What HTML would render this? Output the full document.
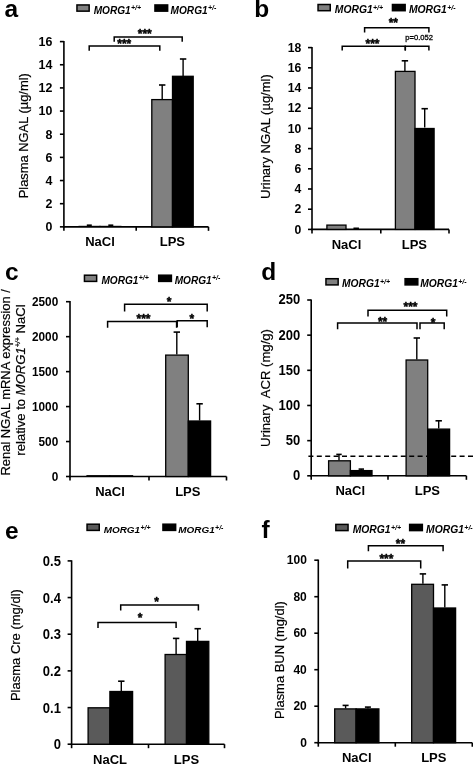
<!DOCTYPE html>
<html><head><meta charset="utf-8"><style>
html,body{margin:0;padding:0;background:#fff;}
svg{display:block;filter:grayscale(1);}
svg text{font-family:"Liberation Sans",sans-serif;fill:#000;}
</style></head><body>
<svg width="473" height="764" viewBox="0 0 473 764">
<rect width="473" height="764" fill="#fff"/>
<text x="4.50" y="16.70" font-size="24.5" font-weight="bold" font-style="normal" text-anchor="start" >a</text>
<rect x="76.95" y="4.95" width="12.20" height="6.20" fill="#808080" stroke="#000" stroke-width="1.5"/>
<rect x="154.95" y="4.95" width="12.70" height="6.20" fill="#000" stroke="#000" stroke-width="1.5"/>
<text x="93.70" y="13.60" font-size="10.1" font-weight="bold" font-style="italic">MORG1<tspan font-size="7.0" dx="0.3" dy="-3.2">+/+</tspan></text>
<text x="170.60" y="13.60" font-size="10.1" font-weight="bold" font-style="italic">MORG1<tspan font-size="7.0" dx="0.3" dy="-3.2">+/-</tspan></text>
<line x1="63.90" y1="41.00" x2="63.90" y2="227.65" stroke="#000" stroke-width="1.6" />
<line x1="63.10" y1="226.85" x2="208.50" y2="226.85" stroke="#000" stroke-width="1.6" />
<line x1="63.90" y1="226.85" x2="63.90" y2="230.85" stroke="#000" stroke-width="1.6" />
<line x1="136.20" y1="226.85" x2="136.20" y2="230.85" stroke="#000" stroke-width="1.6" />
<line x1="208.50" y1="226.85" x2="208.50" y2="230.85" stroke="#000" stroke-width="1.6" />
<line x1="59.90" y1="226.85" x2="63.90" y2="226.85" stroke="#000" stroke-width="1.6" />
<text transform="translate(52.30,231.24) scale(1,1.07)" font-size="12.4" font-weight="bold" text-anchor="end" stroke="#000" stroke-width="0">0</text>
<line x1="59.90" y1="203.69" x2="63.90" y2="203.69" stroke="#000" stroke-width="1.6" />
<text transform="translate(52.30,208.08) scale(1,1.07)" font-size="12.4" font-weight="bold" text-anchor="end" stroke="#000" stroke-width="0">2</text>
<line x1="59.90" y1="180.54" x2="63.90" y2="180.54" stroke="#000" stroke-width="1.6" />
<text transform="translate(52.30,184.92) scale(1,1.07)" font-size="12.4" font-weight="bold" text-anchor="end" stroke="#000" stroke-width="0">4</text>
<line x1="59.90" y1="157.38" x2="63.90" y2="157.38" stroke="#000" stroke-width="1.6" />
<text transform="translate(52.30,161.77) scale(1,1.07)" font-size="12.4" font-weight="bold" text-anchor="end" stroke="#000" stroke-width="0">6</text>
<line x1="59.90" y1="134.22" x2="63.90" y2="134.22" stroke="#000" stroke-width="1.6" />
<text transform="translate(52.30,138.61) scale(1,1.07)" font-size="12.4" font-weight="bold" text-anchor="end" stroke="#000" stroke-width="0">8</text>
<line x1="59.90" y1="111.07" x2="63.90" y2="111.07" stroke="#000" stroke-width="1.6" />
<text transform="translate(52.30,115.46) scale(1,1.07)" font-size="12.4" font-weight="bold" text-anchor="end" stroke="#000" stroke-width="0">10</text>
<line x1="59.90" y1="87.91" x2="63.90" y2="87.91" stroke="#000" stroke-width="1.6" />
<text transform="translate(52.30,92.30) scale(1,1.07)" font-size="12.4" font-weight="bold" text-anchor="end" stroke="#000" stroke-width="0">12</text>
<line x1="59.90" y1="64.76" x2="63.90" y2="64.76" stroke="#000" stroke-width="1.6" />
<text transform="translate(52.30,69.14) scale(1,1.07)" font-size="12.4" font-weight="bold" text-anchor="end" stroke="#000" stroke-width="0">14</text>
<line x1="59.90" y1="41.60" x2="63.90" y2="41.60" stroke="#000" stroke-width="1.6" />
<text transform="translate(52.30,45.99) scale(1,1.07)" font-size="12.4" font-weight="bold" text-anchor="end" stroke="#000" stroke-width="0">16</text>
<text x="100.00" y="246.10" font-size="13.0" font-weight="bold" font-style="normal" text-anchor="middle" stroke="#000" stroke-width="0">NaCl</text>
<text x="172.40" y="246.10" font-size="13.0" font-weight="bold" font-style="normal" text-anchor="middle" stroke="#000" stroke-width="0">LPS</text>
<rect x="78.50" y="225.80" width="22.10" height="1.05" fill="#000"/>
<rect x="99.40" y="225.80" width="22.10" height="1.05" fill="#000"/>
<rect x="151.80" y="99.60" width="20.70" height="127.25" fill="#808080" stroke="#000" stroke-width="1.3"/>
<rect x="172.50" y="76.30" width="20.70" height="150.55" fill="#000" stroke="#000" stroke-width="1.3"/>
<line x1="89.30" y1="225.20" x2="89.30" y2="226.20" stroke="#000" stroke-width="1.4" />
<line x1="86.80" y1="225.20" x2="91.80" y2="225.20" stroke="#000" stroke-width="1.6" />
<line x1="110.80" y1="225.20" x2="110.80" y2="226.20" stroke="#000" stroke-width="1.4" />
<line x1="108.30" y1="225.20" x2="113.30" y2="225.20" stroke="#000" stroke-width="1.6" />
<line x1="162.20" y1="85.00" x2="162.20" y2="99.60" stroke="#000" stroke-width="1.4" />
<line x1="159.00" y1="85.00" x2="165.40" y2="85.00" stroke="#000" stroke-width="1.6" />
<line x1="183.10" y1="59.00" x2="183.10" y2="76.30" stroke="#000" stroke-width="1.4" />
<line x1="179.90" y1="59.00" x2="186.30" y2="59.00" stroke="#000" stroke-width="1.6" />
<path d="M89.20,50.70 V46.10 H159.80 V50.70" fill="none" stroke="#000" stroke-width="1.5"/>
<path d="M114.20,41.70 V37.10 H182.20 V41.70" fill="none" stroke="#000" stroke-width="1.5"/>
<text x="124.30" y="48.40" font-size="12" font-weight="bold" font-style="normal" text-anchor="middle" stroke="#000" stroke-width="0.45" stroke-linejoin="round">***</text>
<text x="144.80" y="38.40" font-size="12" font-weight="bold" font-style="normal" text-anchor="middle" stroke="#000" stroke-width="0.45" stroke-linejoin="round">***</text>
<text transform="translate(28.30,135.75) rotate(-90)" font-size="12.9" text-anchor="middle" stroke="#000" stroke-width="0.2">Plasma NGAL (µg/ml)</text>
<text x="254.30" y="16.80" font-size="24.5" font-weight="bold" font-style="normal" text-anchor="start" >b</text>
<rect x="318.05" y="4.50" width="12.20" height="6.20" fill="#808080" stroke="#000" stroke-width="1.5"/>
<rect x="392.45" y="4.50" width="12.70" height="6.20" fill="#000" stroke="#000" stroke-width="1.5"/>
<text x="334.80" y="13.00" font-size="10.35" font-weight="bold" font-style="italic">MORG1<tspan font-size="7.0" dx="0.3" dy="-3.2">+/+</tspan></text>
<text x="408.90" y="13.00" font-size="10.35" font-weight="bold" font-style="italic">MORG1<tspan font-size="7.0" dx="0.3" dy="-3.2">+/-</tspan></text>
<line x1="312.00" y1="47.00" x2="312.00" y2="230.20" stroke="#000" stroke-width="1.6" />
<line x1="311.20" y1="229.40" x2="449.00" y2="229.40" stroke="#000" stroke-width="1.6" />
<line x1="312.00" y1="229.40" x2="312.00" y2="233.40" stroke="#000" stroke-width="1.6" />
<line x1="380.80" y1="229.40" x2="380.80" y2="233.40" stroke="#000" stroke-width="1.6" />
<line x1="449.00" y1="229.40" x2="449.00" y2="233.40" stroke="#000" stroke-width="1.6" />
<line x1="308.00" y1="229.40" x2="312.00" y2="229.40" stroke="#000" stroke-width="1.6" />
<text transform="translate(301.30,233.68) scale(1,1.07)" font-size="12.2" font-weight="bold" text-anchor="end" stroke="#000" stroke-width="0">0</text>
<line x1="308.00" y1="209.20" x2="312.00" y2="209.20" stroke="#000" stroke-width="1.6" />
<text transform="translate(301.30,213.48) scale(1,1.07)" font-size="12.2" font-weight="bold" text-anchor="end" stroke="#000" stroke-width="0">2</text>
<line x1="308.00" y1="189.00" x2="312.00" y2="189.00" stroke="#000" stroke-width="1.6" />
<text transform="translate(301.30,193.28) scale(1,1.07)" font-size="12.2" font-weight="bold" text-anchor="end" stroke="#000" stroke-width="0">4</text>
<line x1="308.00" y1="168.80" x2="312.00" y2="168.80" stroke="#000" stroke-width="1.6" />
<text transform="translate(301.30,173.08) scale(1,1.07)" font-size="12.2" font-weight="bold" text-anchor="end" stroke="#000" stroke-width="0">6</text>
<line x1="308.00" y1="148.60" x2="312.00" y2="148.60" stroke="#000" stroke-width="1.6" />
<text transform="translate(301.30,152.88) scale(1,1.07)" font-size="12.2" font-weight="bold" text-anchor="end" stroke="#000" stroke-width="0">8</text>
<line x1="308.00" y1="128.40" x2="312.00" y2="128.40" stroke="#000" stroke-width="1.6" />
<text transform="translate(301.30,132.68) scale(1,1.07)" font-size="12.2" font-weight="bold" text-anchor="end" stroke="#000" stroke-width="0">10</text>
<line x1="308.00" y1="108.20" x2="312.00" y2="108.20" stroke="#000" stroke-width="1.6" />
<text transform="translate(301.30,112.48) scale(1,1.07)" font-size="12.2" font-weight="bold" text-anchor="end" stroke="#000" stroke-width="0">12</text>
<line x1="308.00" y1="88.00" x2="312.00" y2="88.00" stroke="#000" stroke-width="1.6" />
<text transform="translate(301.30,92.28) scale(1,1.07)" font-size="12.2" font-weight="bold" text-anchor="end" stroke="#000" stroke-width="0">14</text>
<line x1="308.00" y1="67.80" x2="312.00" y2="67.80" stroke="#000" stroke-width="1.6" />
<text transform="translate(301.30,72.08) scale(1,1.07)" font-size="12.2" font-weight="bold" text-anchor="end" stroke="#000" stroke-width="0">16</text>
<line x1="308.00" y1="47.60" x2="312.00" y2="47.60" stroke="#000" stroke-width="1.6" />
<text transform="translate(301.30,51.88) scale(1,1.07)" font-size="12.2" font-weight="bold" text-anchor="end" stroke="#000" stroke-width="0">18</text>
<text x="346.50" y="248.50" font-size="13.0" font-weight="bold" font-style="normal" text-anchor="middle" stroke="#000" stroke-width="0">NaCl</text>
<text x="414.40" y="248.50" font-size="13.0" font-weight="bold" font-style="normal" text-anchor="middle" stroke="#000" stroke-width="0">LPS</text>
<rect x="326.90" y="225.10" width="19.10" height="4.30" fill="#808080" stroke="#000" stroke-width="1.3"/>
<rect x="395.40" y="71.40" width="19.60" height="158.00" fill="#808080" stroke="#000" stroke-width="1.3"/>
<rect x="415.00" y="128.50" width="19.10" height="100.90" fill="#000" stroke="#000" stroke-width="1.3"/>
<line x1="356.20" y1="228.30" x2="356.20" y2="229.40" stroke="#000" stroke-width="1.4" />
<line x1="353.45" y1="228.30" x2="358.95" y2="228.30" stroke="#000" stroke-width="1.6" />
<line x1="404.90" y1="60.80" x2="404.90" y2="70.90" stroke="#000" stroke-width="1.4" />
<line x1="401.70" y1="60.80" x2="408.10" y2="60.80" stroke="#000" stroke-width="1.6" />
<line x1="424.70" y1="108.70" x2="424.70" y2="127.40" stroke="#000" stroke-width="1.4" />
<line x1="421.50" y1="108.70" x2="427.90" y2="108.70" stroke="#000" stroke-width="1.6" />
<path d="M364.60,32.50 V27.80 H428.90 V32.50" fill="none" stroke="#000" stroke-width="1.5"/>
<path d="M342.20,50.40 V46.20 H405.30 V50.40" fill="none" stroke="#000" stroke-width="1.5"/>
<path d="M405.30,50.40 V46.20 H428.90 V50.40" fill="none" stroke="#000" stroke-width="1.5"/>
<text x="393.30" y="27.00" font-size="12" font-weight="bold" font-style="normal" text-anchor="middle" stroke="#000" stroke-width="0.45" stroke-linejoin="round">**</text>
<text x="372.50" y="47.50" font-size="12" font-weight="bold" font-style="normal" text-anchor="middle" stroke="#000" stroke-width="0.45" stroke-linejoin="round">***</text>
<text x="419.20" y="40.20" font-size="7.6" font-weight="normal" font-style="normal" text-anchor="middle" stroke="#000" stroke-width="0.3">p=0.052</text>
<text transform="translate(269.80,136.60) rotate(-90)" font-size="13.0" text-anchor="middle" stroke="#000" stroke-width="0.2">Urinary NGAL (µg/ml)</text>
<text x="4.90" y="279.90" font-size="24.5" font-weight="bold" font-style="normal" text-anchor="start" >c</text>
<rect x="84.45" y="275.20" width="12.20" height="6.20" fill="#808080" stroke="#000" stroke-width="1.5"/>
<rect x="158.70" y="275.20" width="12.70" height="6.20" fill="#000" stroke="#000" stroke-width="1.5"/>
<text x="101.40" y="283.50" font-size="10.1" font-weight="bold" font-style="italic">MORG1<tspan font-size="7.0" dx="0.3" dy="-3.2">+/+</tspan></text>
<text x="174.70" y="283.50" font-size="10.1" font-weight="bold" font-style="italic">MORG1<tspan font-size="7.0" dx="0.3" dy="-3.2">+/-</tspan></text>
<line x1="70.00" y1="301.10" x2="70.00" y2="477.30" stroke="#000" stroke-width="1.6" />
<line x1="69.20" y1="476.50" x2="226.50" y2="476.50" stroke="#000" stroke-width="1.6" />
<line x1="70.00" y1="476.50" x2="70.00" y2="480.50" stroke="#000" stroke-width="1.6" />
<line x1="149.00" y1="476.50" x2="149.00" y2="480.50" stroke="#000" stroke-width="1.6" />
<line x1="226.50" y1="476.50" x2="226.50" y2="480.50" stroke="#000" stroke-width="1.6" />
<line x1="66.00" y1="476.50" x2="70.00" y2="476.50" stroke="#000" stroke-width="1.6" />
<text transform="translate(58.20,480.67) scale(1,1.07)" font-size="11.8" font-weight="bold" text-anchor="end" stroke="#000" stroke-width="0">0</text>
<line x1="66.00" y1="441.54" x2="70.00" y2="441.54" stroke="#000" stroke-width="1.6" />
<text transform="translate(58.20,445.71) scale(1,1.07)" font-size="11.8" font-weight="bold" text-anchor="end" stroke="#000" stroke-width="0">500</text>
<line x1="66.00" y1="406.58" x2="70.00" y2="406.58" stroke="#000" stroke-width="1.6" />
<text transform="translate(58.20,410.75) scale(1,1.07)" font-size="11.8" font-weight="bold" text-anchor="end" stroke="#000" stroke-width="0">1000</text>
<line x1="66.00" y1="371.62" x2="70.00" y2="371.62" stroke="#000" stroke-width="1.6" />
<text transform="translate(58.20,375.79) scale(1,1.07)" font-size="11.8" font-weight="bold" text-anchor="end" stroke="#000" stroke-width="0">1500</text>
<line x1="66.00" y1="336.66" x2="70.00" y2="336.66" stroke="#000" stroke-width="1.6" />
<text transform="translate(58.20,340.83) scale(1,1.07)" font-size="11.8" font-weight="bold" text-anchor="end" stroke="#000" stroke-width="0">2000</text>
<line x1="66.00" y1="301.70" x2="70.00" y2="301.70" stroke="#000" stroke-width="1.6" />
<text transform="translate(58.20,305.87) scale(1,1.07)" font-size="11.8" font-weight="bold" text-anchor="end" stroke="#000" stroke-width="0">2500</text>
<text x="110.00" y="495.90" font-size="13.0" font-weight="bold" font-style="normal" text-anchor="middle" stroke="#000" stroke-width="0">NaCl</text>
<text x="187.80" y="495.90" font-size="13.0" font-weight="bold" font-style="normal" text-anchor="middle" stroke="#000" stroke-width="0">LPS</text>
<rect x="86.40" y="475.10" width="24.00" height="1.40" fill="#000"/>
<rect x="109.20" y="475.10" width="24.00" height="1.40" fill="#000"/>
<rect x="165.70" y="355.10" width="22.60" height="121.40" fill="#808080" stroke="#000" stroke-width="1.3"/>
<rect x="188.30" y="421.00" width="22.30" height="55.50" fill="#000" stroke="#000" stroke-width="1.3"/>
<line x1="176.80" y1="332.10" x2="176.80" y2="354.60" stroke="#000" stroke-width="1.4" />
<line x1="173.60" y1="332.10" x2="180.00" y2="332.10" stroke="#000" stroke-width="1.6" />
<line x1="199.60" y1="403.80" x2="199.60" y2="420.50" stroke="#000" stroke-width="1.4" />
<line x1="196.40" y1="403.80" x2="202.80" y2="403.80" stroke="#000" stroke-width="1.6" />
<path d="M124.60,311.50 V304.30 H207.20 V311.50" fill="none" stroke="#000" stroke-width="1.5"/>
<path d="M107.60,327.70 V321.50 H176.60 V327.70" fill="none" stroke="#000" stroke-width="1.5"/>
<path d="M177.20,327.30 V320.70 H207.20 V327.30" fill="none" stroke="#000" stroke-width="1.5"/>
<text x="169.20" y="305.70" font-size="12" font-weight="bold" font-style="normal" text-anchor="middle" stroke="#000" stroke-width="0.45" stroke-linejoin="round">*</text>
<text x="143.50" y="323.20" font-size="12" font-weight="bold" font-style="normal" text-anchor="middle" stroke="#000" stroke-width="0.45" stroke-linejoin="round">***</text>
<text x="191.80" y="322.60" font-size="12" font-weight="bold" font-style="normal" text-anchor="middle" stroke="#000" stroke-width="0.45" stroke-linejoin="round">*</text>
<text transform="translate(9.70,382.30) rotate(-90)" font-size="12.95" text-anchor="middle" stroke="#000" stroke-width="0.2">Renal NGAL mRNA expression /</text>
<text transform="translate(24.90,380.00) rotate(-90)" font-size="13.1" text-anchor="middle" stroke="#000" stroke-width="0.2">relative to <tspan font-style="italic">MORG1</tspan><tspan font-size="7" dy="-4.5" font-style="italic">+/+</tspan><tspan dy="4.5"> NaCl</tspan></text>
<text x="261.20" y="279.50" font-size="24.5" font-weight="bold" font-style="normal" text-anchor="start" >d</text>
<rect x="325.95" y="278.70" width="12.20" height="6.20" fill="#808080" stroke="#000" stroke-width="1.5"/>
<rect x="405.10" y="278.70" width="12.70" height="6.20" fill="#000" stroke="#000" stroke-width="1.5"/>
<text x="342.00" y="287.20" font-size="10.27" font-weight="bold" font-style="italic">MORG1<tspan font-size="7.0" dx="0.3" dy="-3.2">+/+</tspan></text>
<text x="420.30" y="287.20" font-size="10.27" font-weight="bold" font-style="italic">MORG1<tspan font-size="7.0" dx="0.3" dy="-3.2">+/-</tspan></text>
<line x1="311.20" y1="299.40" x2="311.20" y2="476.60" stroke="#000" stroke-width="1.6" />
<line x1="310.40" y1="475.80" x2="466.40" y2="475.80" stroke="#000" stroke-width="1.6" />
<line x1="311.20" y1="475.80" x2="311.20" y2="479.80" stroke="#000" stroke-width="1.6" />
<line x1="388.00" y1="475.80" x2="388.00" y2="479.80" stroke="#000" stroke-width="1.6" />
<line x1="466.40" y1="475.80" x2="466.40" y2="479.80" stroke="#000" stroke-width="1.6" />
<line x1="307.20" y1="475.80" x2="311.20" y2="475.80" stroke="#000" stroke-width="1.6" />
<text transform="translate(300.20,480.29) scale(1,1.07)" font-size="13" font-weight="bold" text-anchor="end" stroke="#000" stroke-width="0">0</text>
<line x1="307.20" y1="440.64" x2="311.20" y2="440.64" stroke="#000" stroke-width="1.6" />
<text transform="translate(300.20,445.13) scale(1,1.07)" font-size="13" font-weight="bold" text-anchor="end" stroke="#000" stroke-width="0">50</text>
<line x1="307.20" y1="405.48" x2="311.20" y2="405.48" stroke="#000" stroke-width="1.6" />
<text transform="translate(300.20,409.97) scale(1,1.07)" font-size="13" font-weight="bold" text-anchor="end" stroke="#000" stroke-width="0">100</text>
<line x1="307.20" y1="370.32" x2="311.20" y2="370.32" stroke="#000" stroke-width="1.6" />
<text transform="translate(300.20,374.81) scale(1,1.07)" font-size="13" font-weight="bold" text-anchor="end" stroke="#000" stroke-width="0">150</text>
<line x1="307.20" y1="335.16" x2="311.20" y2="335.16" stroke="#000" stroke-width="1.6" />
<text transform="translate(300.20,339.65) scale(1,1.07)" font-size="13" font-weight="bold" text-anchor="end" stroke="#000" stroke-width="0">200</text>
<line x1="307.20" y1="300.00" x2="311.20" y2="300.00" stroke="#000" stroke-width="1.6" />
<text transform="translate(300.20,304.49) scale(1,1.07)" font-size="13" font-weight="bold" text-anchor="end" stroke="#000" stroke-width="0">250</text>
<text x="350.20" y="494.90" font-size="13.0" font-weight="bold" font-style="normal" text-anchor="middle" stroke="#000" stroke-width="0">NaCl</text>
<text x="427.40" y="494.90" font-size="13.0" font-weight="bold" font-style="normal" text-anchor="middle" stroke="#000" stroke-width="0">LPS</text>
<rect x="328.60" y="460.80" width="21.80" height="15.00" fill="#808080" stroke="#000" stroke-width="1.3"/>
<rect x="350.40" y="470.60" width="21.60" height="5.20" fill="#000" stroke="#000" stroke-width="1.3"/>
<rect x="406.10" y="360.00" width="21.60" height="115.80" fill="#808080" stroke="#000" stroke-width="1.3"/>
<rect x="427.70" y="429.10" width="21.90" height="46.70" fill="#000" stroke="#000" stroke-width="1.3"/>
<line x1="339.00" y1="454.40" x2="339.00" y2="460.30" stroke="#000" stroke-width="1.4" />
<line x1="336.30" y1="454.40" x2="341.70" y2="454.40" stroke="#000" stroke-width="1.6" />
<line x1="361.30" y1="469.10" x2="361.30" y2="470.10" stroke="#000" stroke-width="1.4" />
<line x1="358.60" y1="469.10" x2="364.00" y2="469.10" stroke="#000" stroke-width="1.6" />
<line x1="416.80" y1="338.00" x2="416.80" y2="359.50" stroke="#000" stroke-width="1.4" />
<line x1="413.60" y1="338.00" x2="420.00" y2="338.00" stroke="#000" stroke-width="1.6" />
<line x1="438.70" y1="420.80" x2="438.70" y2="428.60" stroke="#000" stroke-width="1.4" />
<line x1="435.50" y1="420.80" x2="441.90" y2="420.80" stroke="#000" stroke-width="1.6" />
<line x1="308.4" y1="456.3" x2="473" y2="456.3" stroke="#000" stroke-width="1.6" stroke-dasharray="5 3.4"/>
<path d="M368.00,316.60 V310.30 H446.70 V316.60" fill="none" stroke="#000" stroke-width="1.5"/>
<path d="M337.60,329.30 V323.00 H417.00 V329.30" fill="none" stroke="#000" stroke-width="1.5"/>
<path d="M420.00,329.30 V323.00 H444.20 V329.30" fill="none" stroke="#000" stroke-width="1.5"/>
<text x="410.50" y="311.10" font-size="12" font-weight="bold" font-style="normal" text-anchor="middle" stroke="#000" stroke-width="0.45" stroke-linejoin="round">***</text>
<text x="382.60" y="326.40" font-size="12" font-weight="bold" font-style="normal" text-anchor="middle" stroke="#000" stroke-width="0.45" stroke-linejoin="round">**</text>
<text x="433.20" y="326.60" font-size="12" font-weight="bold" font-style="normal" text-anchor="middle" stroke="#000" stroke-width="0.45" stroke-linejoin="round">*</text>
<text transform="translate(270.30,388.00) rotate(-90)" font-size="13.1" text-anchor="middle" stroke="#000" stroke-width="0.2">Urinary&#160; ACR (mg/g)</text>
<text x="4.90" y="538.80" font-size="24.5" font-weight="bold" font-style="normal" text-anchor="start" >e</text>
<rect x="87.05" y="524.20" width="12.20" height="6.20" fill="#5a5a5a" stroke="#000" stroke-width="1.5"/>
<rect x="162.95" y="524.20" width="12.70" height="6.20" fill="#000" stroke="#000" stroke-width="1.5"/>
<text x="103.70" y="532.70" font-size="9.95" font-weight="bold" font-style="italic">MORG1<tspan font-size="7.0" dx="0.3" dy="-3.2">+/+</tspan></text>
<text x="178.30" y="532.70" font-size="9.95" font-weight="bold" font-style="italic">MORG1<tspan font-size="7.0" dx="0.3" dy="-3.2">+/-</tspan></text>
<line x1="71.60" y1="560.30" x2="71.60" y2="745.00" stroke="#000" stroke-width="1.6" />
<line x1="70.80" y1="744.20" x2="224.50" y2="744.20" stroke="#000" stroke-width="1.6" />
<line x1="71.60" y1="744.20" x2="71.60" y2="748.20" stroke="#000" stroke-width="1.6" />
<line x1="148.50" y1="744.20" x2="148.50" y2="748.20" stroke="#000" stroke-width="1.6" />
<line x1="224.50" y1="744.20" x2="224.50" y2="748.20" stroke="#000" stroke-width="1.6" />
<line x1="67.60" y1="744.20" x2="71.60" y2="744.20" stroke="#000" stroke-width="1.6" />
<text transform="translate(60.90,749.34) scale(1,1.07)" font-size="13" font-weight="bold" text-anchor="end" stroke="#000" stroke-width="0">0</text>
<line x1="67.60" y1="707.54" x2="71.60" y2="707.54" stroke="#000" stroke-width="1.6" />
<text transform="translate(60.90,712.68) scale(1,1.07)" font-size="13" font-weight="bold" text-anchor="end" stroke="#000" stroke-width="0">0.1</text>
<line x1="67.60" y1="670.88" x2="71.60" y2="670.88" stroke="#000" stroke-width="1.6" />
<text transform="translate(60.90,676.02) scale(1,1.07)" font-size="13" font-weight="bold" text-anchor="end" stroke="#000" stroke-width="0">0.2</text>
<line x1="67.60" y1="634.22" x2="71.60" y2="634.22" stroke="#000" stroke-width="1.6" />
<text transform="translate(60.90,639.36) scale(1,1.07)" font-size="13" font-weight="bold" text-anchor="end" stroke="#000" stroke-width="0">0.3</text>
<line x1="67.60" y1="597.56" x2="71.60" y2="597.56" stroke="#000" stroke-width="1.6" />
<text transform="translate(60.90,602.70) scale(1,1.07)" font-size="13" font-weight="bold" text-anchor="end" stroke="#000" stroke-width="0">0.4</text>
<line x1="67.60" y1="560.90" x2="71.60" y2="560.90" stroke="#000" stroke-width="1.6" />
<text transform="translate(60.90,566.04) scale(1,1.07)" font-size="13" font-weight="bold" text-anchor="end" stroke="#000" stroke-width="0">0.5</text>
<text x="110.10" y="763.60" font-size="13.0" font-weight="bold" font-style="normal" text-anchor="middle" stroke="#000" stroke-width="0">NaCL</text>
<text x="186.50" y="763.60" font-size="13.0" font-weight="bold" font-style="normal" text-anchor="middle" stroke="#000" stroke-width="0">LPS</text>
<rect x="88.10" y="707.80" width="21.80" height="36.40" fill="#5a5a5a" stroke="#000" stroke-width="1.3"/>
<rect x="109.90" y="691.50" width="22.70" height="52.70" fill="#000" stroke="#000" stroke-width="1.3"/>
<rect x="165.10" y="654.50" width="21.40" height="89.70" fill="#5a5a5a" stroke="#000" stroke-width="1.3"/>
<rect x="186.50" y="641.40" width="22.30" height="102.80" fill="#000" stroke="#000" stroke-width="1.3"/>
<line x1="121.30" y1="681.20" x2="121.30" y2="691.00" stroke="#000" stroke-width="1.4" />
<line x1="118.10" y1="681.20" x2="124.50" y2="681.20" stroke="#000" stroke-width="1.6" />
<line x1="176.10" y1="638.40" x2="176.10" y2="654.00" stroke="#000" stroke-width="1.4" />
<line x1="172.90" y1="638.40" x2="179.30" y2="638.40" stroke="#000" stroke-width="1.6" />
<line x1="197.70" y1="628.70" x2="197.70" y2="642.10" stroke="#000" stroke-width="1.4" />
<line x1="194.50" y1="628.70" x2="200.90" y2="628.70" stroke="#000" stroke-width="1.6" />
<path d="M98.00,628.00 V622.50 H176.10 V628.00" fill="none" stroke="#000" stroke-width="1.5"/>
<path d="M120.70,610.40 V604.90 H198.40 V610.40" fill="none" stroke="#000" stroke-width="1.5"/>
<text x="140.00" y="622.00" font-size="12" font-weight="bold" font-style="normal" text-anchor="middle" stroke="#000" stroke-width="0.45" stroke-linejoin="round">*</text>
<text x="156.50" y="606.00" font-size="12" font-weight="bold" font-style="normal" text-anchor="middle" stroke="#000" stroke-width="0.45" stroke-linejoin="round">*</text>
<text transform="translate(19.80,645.10) rotate(-90)" font-size="13.0" text-anchor="middle" stroke="#000" stroke-width="0.2">Plasma Cre (mg/dl)</text>
<text x="261.60" y="537.80" font-size="24.5" font-weight="bold" font-style="normal" text-anchor="start" >f</text>
<rect x="335.85" y="524.40" width="12.20" height="6.20" fill="#5a5a5a" stroke="#000" stroke-width="1.5"/>
<rect x="409.65" y="524.40" width="12.70" height="6.20" fill="#000" stroke="#000" stroke-width="1.5"/>
<text x="352.70" y="532.90" font-size="10.35" font-weight="bold" font-style="italic">MORG1<tspan font-size="7.0" dx="0.3" dy="-3.2">+/+</tspan></text>
<text x="426.10" y="532.90" font-size="10.35" font-weight="bold" font-style="italic">MORG1<tspan font-size="7.0" dx="0.3" dy="-3.2">+/-</tspan></text>
<line x1="318.30" y1="559.60" x2="318.30" y2="743.50" stroke="#000" stroke-width="1.6" />
<line x1="317.50" y1="742.70" x2="472.30" y2="742.70" stroke="#000" stroke-width="1.6" />
<line x1="318.30" y1="742.70" x2="318.30" y2="746.70" stroke="#000" stroke-width="1.6" />
<line x1="395.30" y1="742.70" x2="395.30" y2="746.70" stroke="#000" stroke-width="1.6" />
<line x1="472.30" y1="742.70" x2="472.30" y2="746.70" stroke="#000" stroke-width="1.6" />
<line x1="314.30" y1="742.70" x2="318.30" y2="742.70" stroke="#000" stroke-width="1.6" />
<text transform="translate(306.80,746.98) scale(1,1.07)" font-size="12" font-weight="bold" text-anchor="end" stroke="#000" stroke-width="0">0</text>
<line x1="314.30" y1="706.20" x2="318.30" y2="706.20" stroke="#000" stroke-width="1.6" />
<text transform="translate(306.80,710.48) scale(1,1.07)" font-size="12" font-weight="bold" text-anchor="end" stroke="#000" stroke-width="0">20</text>
<line x1="314.30" y1="669.70" x2="318.30" y2="669.70" stroke="#000" stroke-width="1.6" />
<text transform="translate(306.80,673.98) scale(1,1.07)" font-size="12" font-weight="bold" text-anchor="end" stroke="#000" stroke-width="0">40</text>
<line x1="314.30" y1="633.20" x2="318.30" y2="633.20" stroke="#000" stroke-width="1.6" />
<text transform="translate(306.80,637.48) scale(1,1.07)" font-size="12" font-weight="bold" text-anchor="end" stroke="#000" stroke-width="0">60</text>
<line x1="314.30" y1="596.70" x2="318.30" y2="596.70" stroke="#000" stroke-width="1.6" />
<text transform="translate(306.80,600.98) scale(1,1.07)" font-size="12" font-weight="bold" text-anchor="end" stroke="#000" stroke-width="0">80</text>
<line x1="314.30" y1="560.20" x2="318.30" y2="560.20" stroke="#000" stroke-width="1.6" />
<text transform="translate(306.80,564.48) scale(1,1.07)" font-size="12" font-weight="bold" text-anchor="end" stroke="#000" stroke-width="0">100</text>
<text x="356.80" y="761.50" font-size="13.0" font-weight="bold" font-style="normal" text-anchor="middle" stroke="#000" stroke-width="0">NaCl</text>
<text x="433.80" y="761.50" font-size="13.0" font-weight="bold" font-style="normal" text-anchor="middle" stroke="#000" stroke-width="0">LPS</text>
<rect x="334.70" y="708.90" width="21.40" height="33.80" fill="#5a5a5a" stroke="#000" stroke-width="1.3"/>
<rect x="356.10" y="708.90" width="22.80" height="33.80" fill="#000" stroke="#000" stroke-width="1.3"/>
<rect x="411.70" y="584.30" width="21.80" height="158.40" fill="#5a5a5a" stroke="#000" stroke-width="1.3"/>
<rect x="433.50" y="608.00" width="22.10" height="134.70" fill="#000" stroke="#000" stroke-width="1.3"/>
<line x1="345.60" y1="705.40" x2="345.60" y2="708.40" stroke="#000" stroke-width="1.4" />
<line x1="342.60" y1="705.40" x2="348.60" y2="705.40" stroke="#000" stroke-width="1.6" />
<line x1="367.90" y1="707.10" x2="367.90" y2="708.40" stroke="#000" stroke-width="1.4" />
<line x1="364.90" y1="707.10" x2="370.90" y2="707.10" stroke="#000" stroke-width="1.6" />
<line x1="422.90" y1="573.90" x2="422.90" y2="583.80" stroke="#000" stroke-width="1.4" />
<line x1="419.70" y1="573.90" x2="426.10" y2="573.90" stroke="#000" stroke-width="1.6" />
<line x1="444.80" y1="584.90" x2="444.80" y2="607.50" stroke="#000" stroke-width="1.4" />
<line x1="441.60" y1="584.90" x2="448.00" y2="584.90" stroke="#000" stroke-width="1.6" />
<path d="M347.70,568.50 V561.00 H420.70 V568.50" fill="none" stroke="#000" stroke-width="1.5"/>
<path d="M368.40,551.30 V545.70 H443.10 V551.30" fill="none" stroke="#000" stroke-width="1.5"/>
<text x="386.40" y="562.70" font-size="12" font-weight="bold" font-style="normal" text-anchor="middle" stroke="#000" stroke-width="0.45" stroke-linejoin="round">***</text>
<text x="400.50" y="547.80" font-size="12" font-weight="bold" font-style="normal" text-anchor="middle" stroke="#000" stroke-width="0.45" stroke-linejoin="round">**</text>
<text transform="translate(284.30,660.10) rotate(-90)" font-size="12.95" text-anchor="middle" stroke="#000" stroke-width="0.2">Plasma BUN (mg/dl)</text>
</svg></body></html>
